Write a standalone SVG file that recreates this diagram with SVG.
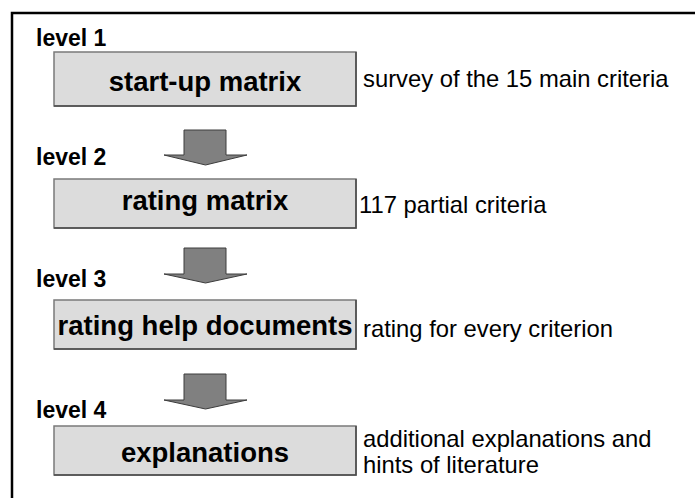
<svg xmlns="http://www.w3.org/2000/svg" width="695" height="498" viewBox="0 0 695 498">
<style>
.box{fill:#dcdcdc;stroke:#7a7a7a;stroke-width:1.5}
.edge{fill:none;stroke:#4a4a4a;stroke-width:1.5}
.title{font-family:"Liberation Sans",Arial,sans-serif;font-weight:bold;font-size:27.5px;fill:#000;text-anchor:middle}
.lvl{font-family:"Liberation Sans",Arial,sans-serif;font-weight:bold;font-size:23px;fill:#000}
.desc{font-family:"Liberation Sans",Arial,sans-serif;font-size:23.8px;fill:#000}
.arrow{fill:#808080;stroke:#3c3c3c;stroke-width:1}
</style>
<rect width="695" height="498" fill="#fff"/>
<path d="M12,498 V13 H695" fill="none" stroke="#000" stroke-width="2.5"/>
<g id="level1">
<text class="lvl" x="36" y="46">level 1</text>
<rect class="box" x="54" y="52" width="302" height="54"/>
<path class="edge" d="M54,106 H356 V52"/>
<text class="title" x="205" y="91">start-up matrix</text>
<text class="desc" x="363" y="87">survey of the 15 main criteria</text>
</g>
<g id="level2">
<text class="lvl" x="36" y="165">level 2</text>
<rect class="box" x="54" y="179" width="302" height="49"/>
<path class="edge" d="M54,228 H356 V179"/>
<text class="title" x="205" y="210">rating matrix</text>
<text class="desc" x="359" y="213">117 partial criteria</text>
</g>
<g id="level3">
<text class="lvl" x="36" y="287">level 3</text>
<rect class="box" x="54" y="300" width="302" height="49"/>
<path class="edge" d="M54,349 H356 V300"/>
<text class="title" x="205" y="335">rating help documents</text>
<text class="desc" x="363" y="337">rating for every criterion</text>
</g>
<g id="level4">
<text class="lvl" x="36" y="418">level 4</text>
<rect class="box" x="54" y="426" width="302" height="49"/>
<path class="edge" d="M54,475 H356 V426"/>
<text class="title" x="205" y="462">explanations</text>
<text class="desc" x="363" y="447">additional explanations and</text>
<text class="desc" x="363" y="473">hints of literature</text>
</g>
<g id="connectors">
<polygon class="arrow" points="184,130 226,130 226,155 247,155 205.5,165 164,155 184,155"/>
<polygon class="arrow" points="184,248 226,248 226,274 247,274 205.5,283 164,274 184,274"/>
<polygon class="arrow" points="184,374 226,374 226,400 247,400 205.5,409 164,400 184,400"/>
</g>
</svg>
